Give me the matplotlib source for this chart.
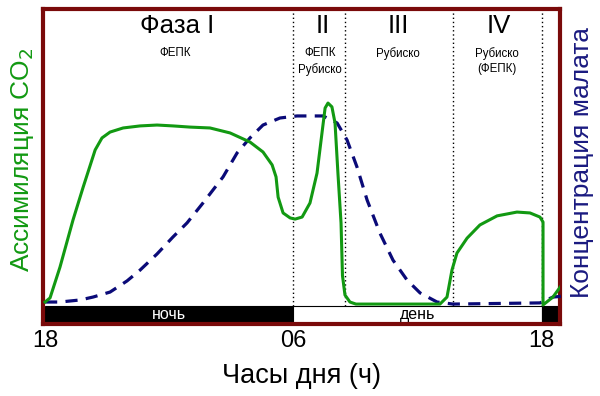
import matplotlib
matplotlib.use("Agg")
import matplotlib.pyplot as plt
from matplotlib.patches import Rectangle

plt.rcParams['font.family'] = ['Liberation Sans', 'DejaVu Sans']

# Hours since 18:00 ; CO2 assimilation (relative units)
co2_h = [0, 0.24, 0.72, 1.35, 1.84, 2.42, 2.75, 3.14, 3.77, 4.59, 5.41, 6.18, 7.0,
         7.97, 8.94, 9.9, 10.53, 10.97, 11.16, 11.26, 11.5, 11.84, 12.08, 12.42,
         12.8, 13.14, 13.38, 13.53, 13.67, 13.86, 14.01, 14.15, 14.3, 14.37, 14.49,
         14.73, 15.02, 19.08, 19.42, 19.66, 19.9, 20.39, 21.01, 21.84, 22.8, 23.43,
         23.91, 24.06, 24.06, 24.54, 24.93]
co2_v = [0, 1.4, 11.9, 28.0, 39.2, 51.9, 56.0, 58.0, 59.4, 60.1, 60.4, 60.1, 59.7,
         59.4, 57.7, 54.6, 51.2, 46.8, 42.7, 35.8, 30.4, 28.7, 28.3, 29.0,
         33.8, 44.0, 57.7, 66.2, 67.9, 66.6, 61.1, 44.0, 27.0, 9.0, 2.4,
         0, -0.7, -0.7, 1.7, 10.9, 16.7, 21.8, 26.3, 29.4, 30.7, 30.4,
         29.0, 27.3, -1.0, 1.7, 5.5]

# Malate concentration (relative units)
mal_h = [0, 0.72, 1.69, 2.32, 3.14, 3.96, 4.59, 5.41, 6.18, 6.86, 7.63, 8.6, 9.28,
         9.9, 10.53, 11.35, 12.17, 13.43, 14.11, 14.59, 15.07, 15.56, 16.18, 16.81,
         17.49, 18.12, 18.94, 19.71, 23.91, 24.54, 25.05]
mal_v = [0, 0, 0.7, 1.7, 3.4, 7.2, 10.9, 16.4, 22.2, 27.0, 33.8, 42.7, 50.9,
         56.0, 60.4, 62.8, 63.5, 63.5, 61.1, 55.3, 46.1, 34.8, 23.5, 14.3,
         7.5, 3.1, 0, -0.7, -0.3, 1.7, 2.0]

phase_bounds = [12, 14.5, 19.7, 24]
phase_names = ["Фаза I", "II", "III", "IV"]
phase_x = [6.4, 13.4, 17.05, 21.9]
enzyme_x = [6.3, 13.3, 17.05, 21.85]
enzyme_names = ["ФЕПК", "ФЕПК\nРубиско", "Рубиско", "Рубиско\n(ФЕПК)"]
tick_pos = [0, 12, 24]
tick_labels = ["18", "06", "18"]

fig = plt.figure(figsize=(6, 3.96), dpi=100)
ax = fig.add_axes([43/600, 1-324/396, 517/600, 315/396])
ax.set_xlim(-0.1, 24.88)
ax.set_ylim(-7.5, 100)

red = '#7a0a0a'
for s in ax.spines.values():
    s.set_color(red)
    s.set_linewidth(3)

# day/night bar
ax.add_patch(Rectangle((0, -7.2), 12, 5.9, facecolor='black', edgecolor='black', lw=0.8))
ax.add_patch(Rectangle((12, -7.2), 12, 5.9, facecolor='white', edgecolor='black', lw=0.8))
ax.add_patch(Rectangle((24, -7.2), 0.9, 5.9, facecolor='black', edgecolor='black', lw=0.8))
ax.text(6, -4.1, "ночь", color='white', ha='center', va='center', fontsize=11.5)
ax.text(18, -4.1, "день", color='black', ha='center', va='center', fontsize=11.5)

for b in phase_bounds:
    ax.plot([b, b], [-1.3, 100], color='black', ls=(0, (1, 2)), lw=1)

for x, n in zip(phase_x, phase_names):
    ax.text(x, 94.2, n, ha='center', va='center', fontsize=18.5)
for x, e in zip(enzyme_x, enzyme_names):
    ax.text(x, 87, e, ha='center', va='top', fontsize=8.3, linespacing=1.35)

ax.plot(mal_h, mal_v, color='#0a0a78', lw=2.3, ls=(0, (3.8, 2.6)), clip_on=False, zorder=3)
ax.plot(co2_h, co2_v, color='#129912', lw=2.2, zorder=4)

ax.set_xticks(tick_pos)
ax.set_xticklabels(tick_labels, fontsize=17)
ax.tick_params(axis='x', length=0, pad=4)
ax.set_yticks([])
ax.set_xlabel("Часы дня (ч)", fontsize=19.5, labelpad=8)

fig.text(23/600, 1-160/396, "Ассимиляция CO$_2$", color='#129912', rotation=90,
         ha='center', va='center', fontsize=19)
fig.text(582/600, 1-163/396, "Концентрация малата", color='#1a1a80', rotation=90,
         ha='center', va='center', fontsize=19)

fig.savefig("out.png", dpi=100)
